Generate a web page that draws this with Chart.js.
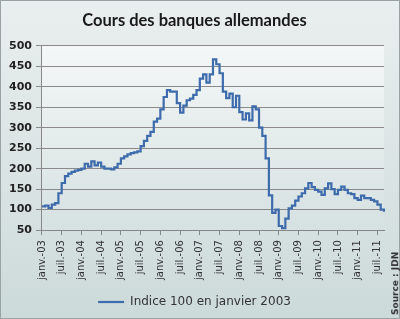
<!DOCTYPE html>
<html>
<head>
<meta charset="utf-8">
<script src="https://cdn.jsdelivr.net/npm/chart.js@4.4.1/dist/chart.umd.min.js"></script>
<style>
  html, body { margin: 0; padding: 0; }
  #wrap {
    position: relative;
    width: 400px; height: 319px;
    box-sizing: border-box;
    border: 1px solid #9aa3a3;
    background: linear-gradient(#e9efee, #cddada);
  }
  #source {
    position: absolute;
    right: -1px; bottom: 3px;
    transform-origin: right bottom;
    transform: rotate(-90deg) translate(100%, 0);
    font: bold 9px "DejaVu Sans", sans-serif;
    color: #333;
    white-space: nowrap;
  }
</style>
</head>
<body>
<div id="wrap">
  <canvas id="chart" width="398" height="317"></canvas>
  <div id="source">Source : JDN</div>
</div>
<script>
// indice mensuel, janvier 2003 = 100
const y2003 = [108, 110, 104, 112, 116, 140, 165, 182, 188, 192, 195, 197];
const y2004 = [200, 212, 205, 218, 208, 215, 205, 200, 200, 198, 203, 212];
const y2005 = [225, 230, 235, 238, 240, 242, 255, 268, 280, 290, 315, 322];
const y2006 = [345, 375, 392, 388, 388, 360, 337, 354, 367, 371, 380, 392];
const y2007 = [420, 430, 410, 430, 467, 455, 433, 388, 372, 383, 350, 378];
const y2008 = [338, 320, 335, 318, 352, 345, 300, 280, 225, 135, 92, 100];
const y2009 = [60, 55, 78, 103, 110, 122, 132, 140, 152, 165, 155, 148];
const y2010 = [144, 136, 152, 164, 150, 138, 148, 156, 148, 140, 138, 128];
const y2011 = [124, 134, 128, 128, 124, 120, 112, 100, 95];
const tickLabels = ['janv.-03', 'juil.-03', 'janv.-04', 'juil.-04', 'janv.-05', 'juil.-05',
  'janv.-06', 'juil.-06', 'janv.-07', 'juil.-07', 'janv.-08', 'juil.-08', 'janv.-09',
  'juil.-09', 'janv.-10', 'juil.-10', 'janv.-11', 'juil.-11'];
const seriesName = 'Indice 100 en janvier 2003';

const values = [].concat(y2003, y2004, y2005, y2006, y2007, y2008, y2009, y2010, y2011);
const months = values.map((v, i) => i);

// fond dégradé de la zone de tracé
const plotBg = {
  id: 'plotBg',
  beforeDraw(chart) {
    const a = chart.chartArea, ctx = chart.ctx;
    const g = ctx.createLinearGradient(0, a.top, 0, a.bottom);
    g.addColorStop(0, '#f4f7f7');
    g.addColorStop(1, '#d6e1e1');
    ctx.save();
    ctx.fillStyle = g;
    ctx.fillRect(a.left, a.top, a.right - a.left, a.bottom - a.top);
    ctx.restore();
  }
};

new Chart(document.getElementById('chart'), {
  type: 'line',
  data: {
    labels: months,
    datasets: [{
      label: seriesName,
      data: values,
      stepped: true,
      borderColor: '#3d6bab',
      borderWidth: 2.2,
      pointRadius: 0,
      fill: false
    }]
  },
  options: {
    responsive: false,
    animation: false,
    layout: { padding: { left: 4, right: 15, top: 0, bottom: 0 } },
    plugins: {
      title: {
        display: true,
        text: 'Cours des banques allemandes',
        color: '#1a1a1a',
        font: { family: 'Lato', size: 16.5, weight: 'bold' },
        padding: { top: 10, bottom: 15 }
      },
      legend: {
        position: 'bottom',
        labels: {
          usePointStyle: true,
          pointStyle: 'line',
          pointStyleWidth: 26,
          color: '#333',
          font: { family: 'DejaVu Sans', size: 12 },
          padding: 11
        }
      },
      tooltip: { enabled: false }
    },
    scales: {
      x: {
        type: 'category',
        grid: { drawOnChartArea: false, tickLength: 5, color: '#888' },
        border: { color: '#888' },
        ticks: {
          autoSkip: false,
          minRotation: 90,
          maxRotation: 90,
          padding: 5,
          color: '#333',
          font: { family: 'DejaVu Sans', size: 10 },
          callback: function(v, i) {
            return i % 6 === 0 ? tickLabels[i / 6] : null;
          }
        }
      },
      y: {
        min: 50,
        max: 500,
        ticks: {
          stepSize: 50,
          color: '#222',
          font: { family: 'DejaVu Sans', size: 11, weight: 'bold' },
          padding: 4
        },
        grid: { color: '#8a8a8a', tickLength: 6 },
        border: { color: '#888' }
      }
    }
  },
  plugins: [plotBg]
});
</script>
</body>
</html>
